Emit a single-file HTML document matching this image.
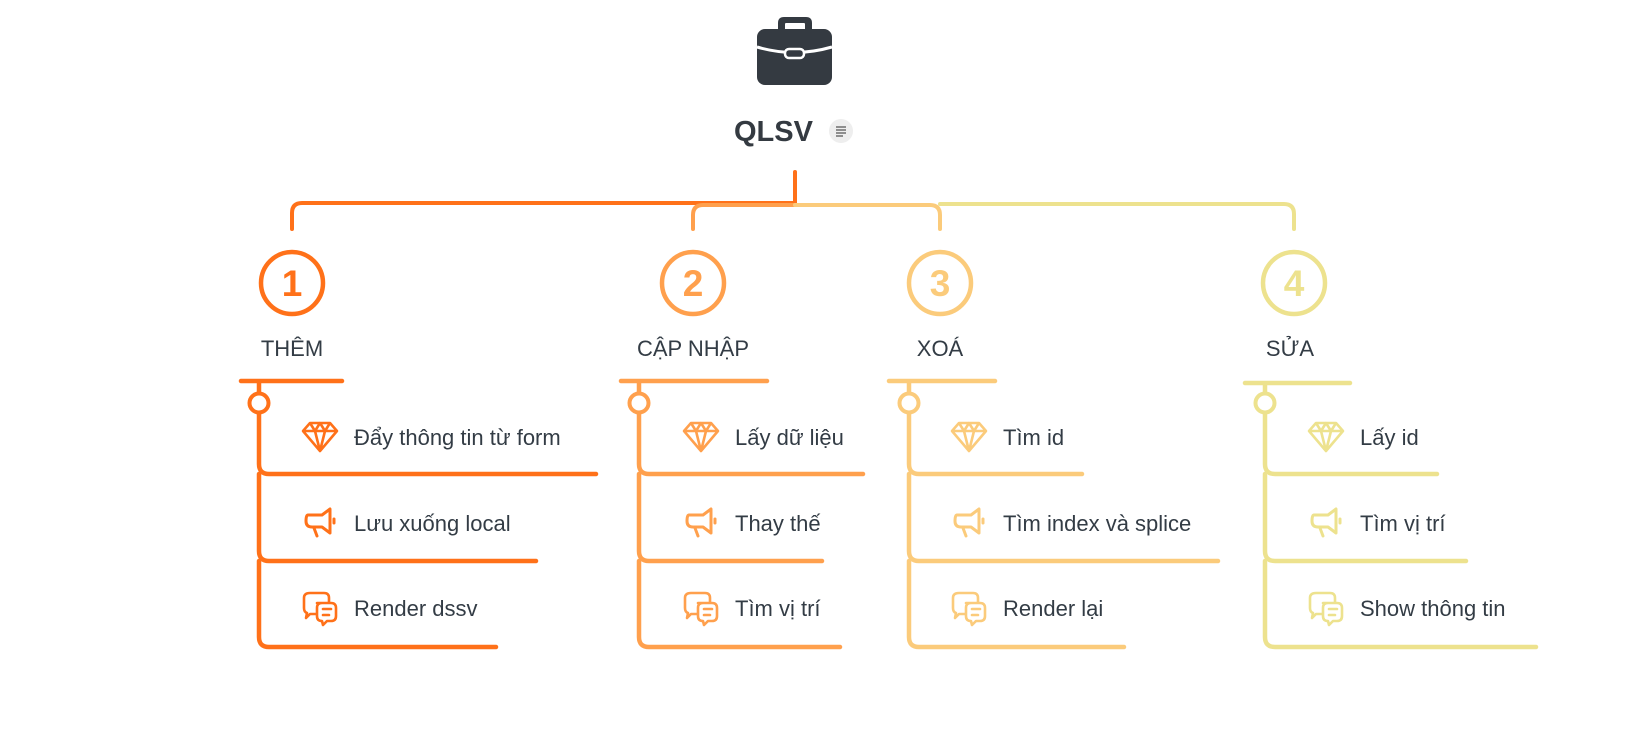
<!DOCTYPE html>
<html><head><meta charset="utf-8"><style>
html,body{margin:0;padding:0;background:#fff;width:1649px;height:732px;overflow:hidden}
svg{display:block}
text{font-family:"Liberation Sans",sans-serif;fill:#333c45}
</style></head><body>
<svg width="1649" height="732" viewBox="0 0 1649 732" xmlns="http://www.w3.org/2000/svg">
<defs>
<g id="dia"><path d="M-17,-6 L-10,-14 L10,-14 L17,-6 L0,14 Z M-17,-6 L17,-6 M-10,-14 L-5,-6 L0,-14 L5,-6 L10,-14 M-5,-6 L0,14 L5,-6" fill="none" stroke-width="2.6" stroke-linejoin="round"/></g>
<g id="meg"><path d="M-12,-8 L2,-8 L10,-14 L10,10 L2,4 L-8,4 Q-14,4 -14,-2 Q-14,-8 -12,-8 Z M14,-4 L14,0 M-6,5 L-3,13" fill="none" stroke-width="3" stroke-linejoin="round" stroke-linecap="round"/></g>
<g id="chat"><path d="M-10,-15 L4,-15 Q9,-15 9,-10 L9,-6 M-4,6 L-10,6 L-14,10 L-13,5 Q-16,4 -16,0 L-16,-10 Q-16,-15 -10,-15" fill="none" stroke-width="2.6" stroke-linejoin="round"/><path d="M-3,-5 L11,-5 Q16,-5 16,0 L16,8 Q16,13 11,13 L7,13 L3,17 L2,13 Q-3,13 -3,8 L-3,0 Q-3,-5 2,-5 Z M3,1 L11,1 M3,7 L9,7" fill="none" stroke-width="2.6" stroke-linejoin="round" stroke-linecap="round"/></g>
</defs>
<!-- briefcase -->
<rect x="757" y="29" width="75" height="56" rx="8" fill="#343a41"/>
<path fill-rule="evenodd" fill="#343a41" d="M778,30 L778,23 Q778,17 784,17 L806,17 Q812,17 812,23 L812,30 Z M785,29 L785,24 Q785,23 786,23 L804,23 Q805,23 805,24 L805,29 Z"/>
<path d="M757,47 Q794,58 832,47" fill="none" stroke="#fff" stroke-width="3"/>
<rect x="785" y="49" width="19" height="9" rx="4" fill="#343a41" stroke="#fff" stroke-width="2.5"/>
<text x="734" y="141" font-size="29" font-weight="bold" style="fill:#343a41">QLSV</text>
<circle cx="841" cy="131" r="12" fill="#eeeeee"/>
<path d="M836,127 H846 M836,130 H846 M836,133 H846 M836,136 H843" stroke="#555" stroke-width="1.3"/>
<!-- top connectors -->
<path d="M795,172 V203" stroke="#FF7119" stroke-width="4" stroke-linecap="round" fill="none"/>
<path d="M795,203 H302 Q292,203 292,213 V229" stroke="#FF7119" stroke-width="4" stroke-linecap="round" fill="none"/>
<path d="M795,205 H703 Q693,205 693,215 V229" stroke="#FFA04D" stroke-width="4" stroke-linecap="round" fill="none"/>
<path d="M940,204 H1284 Q1294,204 1294,214 V229" stroke="#EDE28E" stroke-width="4" stroke-linecap="round" fill="none"/>
<path d="M795,205 H930 Q940,205 940,215 V229" stroke="#FBCB7B" stroke-width="4" stroke-linecap="round" fill="none"/>

<!-- branch 1 -->
<g stroke="#FF7119" fill="#FF7119">
<circle cx="292" cy="283" r="31" fill="none" stroke-width="4.5"/>
<text x="292" y="296" font-size="37" font-weight="bold" text-anchor="middle" stroke="none" style="fill:#FF7119">1</text>
<path d="M241,381 H342 M259,381 V393 M259,413 V464 Q259,474 269,474 H596 M259,474 V551 Q259,561 269,561 H536 M259,561 V637 Q259,647 269,647 H496" fill="none" stroke-width="4.5" stroke-linecap="round"/>
<circle cx="259" cy="403" r="9.5" fill="#fff" stroke-width="4"/>
<use href="#dia" x="320" y="437" fill="none"/><use href="#meg" x="320" y="523" fill="none"/><use href="#chat" x="320" y="608" fill="none"/>
</g>
<text x="292" y="356" font-size="22" text-anchor="middle">THÊM</text>
<text x="354" y="445" font-size="22">Đẩy thông tin từ form</text>
<text x="354" y="531" font-size="22">Lưu xuống local</text>
<text x="354" y="616" font-size="22">Render dssv</text>

<!-- branch 2 -->
<g stroke="#FFA04D">
<circle cx="693" cy="283" r="31" fill="none" stroke-width="4.5"/>
<text x="693" y="296" font-size="37" font-weight="bold" text-anchor="middle" stroke="none" style="fill:#FFA04D">2</text>
<path d="M621,381 H767 M639,381 V393 M639,413 V464 Q639,474 649,474 H863 M639,474 V551 Q639,561 649,561 H822 M639,561 V637 Q639,647 649,647 H840" fill="none" stroke-width="4.5" stroke-linecap="round"/>
<circle cx="639" cy="403" r="9.5" fill="#fff" stroke-width="4"/>
<use href="#dia" x="701" y="437"/><use href="#meg" x="701" y="523"/><use href="#chat" x="701" y="608"/>
</g>
<text x="693" y="356" font-size="22" text-anchor="middle">CẬP NHẬP</text>
<text x="735" y="445" font-size="22">Lấy dữ liệu</text>
<text x="735" y="531" font-size="22">Thay thế</text>
<text x="735" y="616" font-size="22">Tìm vị trí</text>

<!-- branch 3 -->
<g stroke="#FBCB7B">
<circle cx="940" cy="283" r="31" fill="none" stroke-width="4.5"/>
<text x="940" y="296" font-size="37" font-weight="bold" text-anchor="middle" stroke="none" style="fill:#FBCB7B">3</text>
<path d="M889,381 H995 M909,381 V393 M909,413 V464 Q909,474 919,474 H1082 M909,474 V551 Q909,561 919,561 H1218 M909,561 V637 Q909,647 919,647 H1124" fill="none" stroke-width="4.5" stroke-linecap="round"/>
<circle cx="909" cy="403" r="9.5" fill="#fff" stroke-width="4"/>
<use href="#dia" x="969" y="437"/><use href="#meg" x="969" y="523"/><use href="#chat" x="969" y="608"/>
</g>
<text x="940" y="356" font-size="22" text-anchor="middle">XOÁ</text>
<text x="1003" y="445" font-size="22">Tìm id</text>
<text x="1003" y="531" font-size="22">Tìm index và splice</text>
<text x="1003" y="616" font-size="22">Render lại</text>

<!-- branch 4 -->
<g stroke="#EDE28E">
<circle cx="1294" cy="283" r="31" fill="none" stroke-width="4.5"/>
<text x="1294" y="296" font-size="37" font-weight="bold" text-anchor="middle" stroke="none" style="fill:#EDE28E">4</text>
<path d="M1245,383 H1350 M1265,383 V393 M1265,413 V464 Q1265,474 1275,474 H1437 M1265,474 V551 Q1265,561 1275,561 H1466 M1265,561 V637 Q1265,647 1275,647 H1536" fill="none" stroke-width="4.5" stroke-linecap="round"/>
<circle cx="1265" cy="403" r="9.5" fill="#fff" stroke-width="4"/>
<use href="#dia" x="1326" y="437"/><use href="#meg" x="1326" y="523"/><use href="#chat" x="1326" y="608"/>
</g>
<text x="1290" y="356" font-size="22" text-anchor="middle">SỬA</text>
<text x="1360" y="445" font-size="22">Lấy id</text>
<text x="1360" y="531" font-size="22">Tìm vị trí</text>
<text x="1360" y="616" font-size="22">Show thông tin</text>
</svg>
</body></html>
